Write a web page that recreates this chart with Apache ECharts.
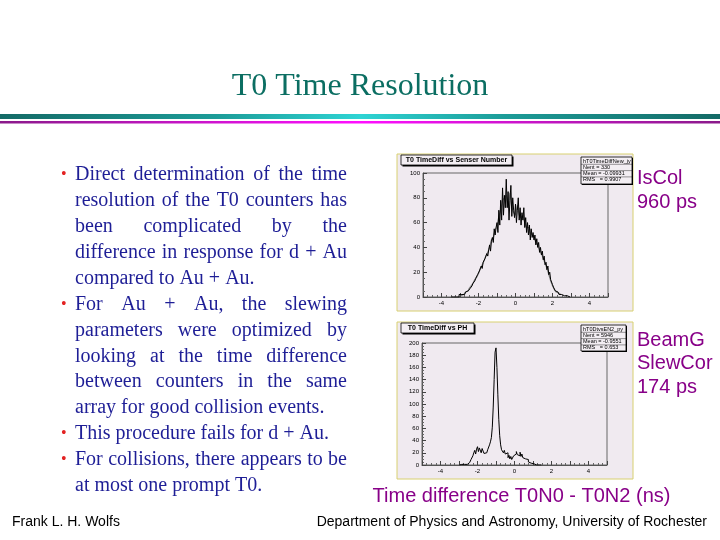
<!DOCTYPE html>
<html><head><meta charset="utf-8">
<script src="https://cdn.jsdelivr.net/npm/echarts@6/dist/echarts.min.js"></script>
<style>html,body{margin:0;padding:0;background:#fff}#c{width:720px;height:540px}</style>
</head><body><div id="c"></div><script>
// ---- data ----
const xTickLabels = [-4, -2, 0, 2, 4];
const topBinStart = -3.5, topBinWidth = 0.05;
const topCounts = [0,1,0,0,1,0,1,1,0,2,
 1,2,1,3,2,3,4,3,5,5,
 6,7,8,9,11,10,13,15,14,18,
 17,21,20,25,23,28,27,31,30,35,
 33,38,42,37,45,48,44,55,50,56,
 60,52,70,58,78,62,88,66,82,72,
 95,72,85,62,78,90,65,80,70,64,
 75,60,70,80,62,72,58,68,62,72,
 56,64,52,60,50,58,46,55,48,52,
 46,50,42,47,40,44,36,40,34,37,
 30,33,26,28,22,25,18,20,14,13,
 10,8,8,5,6,4,4,2,3,2,
 1,2,1,0,1,1,0,1,0,0];
const topGreyStart = -3.0, topGreyWidth = 0.1;
const topGreyCounts = [1,2,3,4,5, 7,9,11,14,16, 19,23,26,29,33, 36,40,46,48,54,
 57,65,70,78,80, 82,72,84,72,68, 66,74,66,64,66, 60,56,56,52,50, 48,44,42,38,35,
 31,27,23,18,13, 9,6,4,3,2];
const botBinStart = -3.0, botBinWidth = 0.05;
const botCounts = [0,0,0,1,0,1,1,2,1,2,
 3,4,6,9,12,15,20,24,18,26,
 30,22,28,25,20,27,24,19,22,20,
 22,25,28,33,38,45,62,95,140,185,
 192,160,115,75,48,33,25,28,20,24,
 18,15,20,12,16,10,14,9,12,15,
 13,18,22,17,20,15,21,14,18,12,
 15,10,12,7,9,5,6,3,4,2,
 2,1,1,0,1,1,0,1,0,0];
const topStats = ['hT0TimeDiffNew_jy', 'Nent = 330', 'Mean = -0.09931', 'RMS   = 0.9907'];
const botStats = ['hT0DtvsEN2_py', 'Nent = 5946', 'Mean = -0.9551', 'RMS   = 0.653'];
const bulletLines = [
 {t:'Direct determination of the time', b:true, j:true},
 {t:'resolution of the T0 counters has', b:false, j:true},
 {t:'been complicated by the', b:false, j:true},
 {t:'difference in response for d + Au', b:false, j:true},
 {t:'compared to Au + Au.', b:false, j:false},
 {t:'For Au + Au, the slewing', b:true, j:true},
 {t:'parameters were optimized by', b:false, j:true},
 {t:'looking at the time difference', b:false, j:true},
 {t:'between counters in the same', b:false, j:true},
 {t:'array for good collision events.', b:false, j:false},
 {t:'This procedure fails for d + Au.', b:true, j:false},
 {t:'For collisions, there appears to be', b:true, j:true},
 {t:'at most one prompt T0.', b:false, j:false}
];

function hist(start, w, counts){ return counts.map((v,i)=>[start + (i+0.5)*w, v]); }

const chart = echarts.init(document.getElementById('c'), null, {renderer:'canvas'});

const SANS = '"Liberation Sans", Arial, sans-serif';
const SERIF = '"Liberation Serif", "Times New Roman", serif';

function mkX(gi){ return {type:'value', gridIndex:gi, min:-5, max:5, interval:1,
  axisLine:{show:true, onZero:false, lineStyle:{color:'#555', width:1}},
  axisTick:{show:true, inside:true, length:4, lineStyle:{color:'#444'}},
  minorTick:{show:true, splitNumber:4, length:2, lineStyle:{color:'#666'}},
  splitLine:{show:false},
  axisLabel:{fontSize:6, color:'#000', margin:3, fontFamily:SANS,
    formatter: v => xTickLabels.indexOf(v) >= 0 ? String(v) : ''}}; }
function mkY(gi, max){ return {type:'value', gridIndex:gi, min:0, max:max, interval:20,
  axisLine:{show:true, onZero:false, lineStyle:{color:'#555', width:1}},
  axisTick:{show:true, inside:true, length:4, lineStyle:{color:'#444'}},
  minorTick:{show:true, splitNumber:4, length:2, lineStyle:{color:'#666'}},
  splitLine:{show:false},
  axisLabel:{fontSize:6, color:'#000', margin:3, fontFamily:SANS}}; }

// justified text (y values are text tops)
const ctx = document.createElement('canvas').getContext('2d');
ctx.font = '20px "Liberation Serif"';
const textEls = [];
const LX = 75, RX = 347, TOP0 = 165, LH = 25.9;
bulletLines.forEach((ln, i) => {
  const y = TOP0 + LH*i;
  const words = ln.t.split(' ');
  const widths = words.map(w => ctx.measureText(w).width);
  const total = widths.reduce((a,b)=>a+b,0);
  const gap = (ln.j && words.length>1) ? (RX-LX-total)/(words.length-1) : ctx.measureText(' ').width;
  let x = LX;
  words.forEach((w, k) => {
    textEls.push({type:'text', z:100, x:x, y:y, style:{text:w, fill:'#1e1e96', font:'20px '+SERIF, verticalAlign:'top'}});
    x += widths[k] + gap;
  });
  if (ln.b) textEls.push({type:'text', z:100, x:61, y:y+2, style:{text:'\u2022', fill:'#e32222', font:'16px '+SERIF, verticalAlign:'top'}});
});

function statBox(x, y, w, h, lines){
  const els = [{type:'rect', z:50, shape:{x:x+1,y:y+1,width:w,height:h}, style:{fill:'#000'}},
    {type:'rect', z:51, shape:{x:x,y:y,width:w,height:h}, style:{fill:'#f3eef3', stroke:'#000', lineWidth:0.8}}];
  lines.forEach((t,i)=>{
    els.push({type:'text', z:52, x:x+2, y:y+4+i*6.3, style:{text:t, fill:'#000', font:'5.5px '+SANS, verticalAlign:'middle'}});
    if (i>0) els.push({type:'line', z:52, shape:{x1:x, y1:y+1+i*6.3, x2:x+w, y2:y+1+i*6.3}, style:{stroke:'#000', lineWidth:0.4}});
  });
  return els;
}
function titleBox(x, y, w, h, t){
  return [{type:'rect', z:50, shape:{x:x+1.5,y:y+1.5,width:w,height:h}, style:{fill:'#000'}},
    {type:'rect', z:51, shape:{x:x,y:y,width:w,height:h}, style:{fill:'#f3eef3', stroke:'#000', lineWidth:0.8}},
    {type:'text', z:52, x:x+w/2, y:y+h/2, style:{text:t, fill:'#000', font:'bold 7px '+SANS, align:'center', verticalAlign:'middle'}}];
}
function label(x, y, t, size, color, align){
  return {type:'text', z:100, x:x, y:y, style:{text:t, fill:color, font:size+'px '+SANS, align:align||'left', verticalAlign:'top'}};
}

const PURPLE = '#880088';
const graphics = [
  {type:'text', z:100, x:360, y:71, style:{text:'T0 Time Resolution', fill:'#0b6e62', font:'32px '+SERIF, align:'center', verticalAlign:'top'}},
  {type:'rect', z:10, shape:{x:0,y:114,width:720,height:5}, style:{fill:{type:'linear',x:0,y:0,x2:1,y2:0,colorStops:[
    {offset:0,color:'#146a66'},{offset:0.3,color:'#1c9c98'},{offset:0.5,color:'#2ed4d4'},{offset:0.7,color:'#1c9c98'},{offset:1,color:'#146a66'}]}}},
  {type:'rect', z:10, shape:{x:0,y:121,width:720,height:2.5}, style:{fill:{type:'linear',x:0,y:0,x2:1,y2:0,colorStops:[
    {offset:0,color:'#8a1a8a'},{offset:0.5,color:'#ff10ff'},{offset:1,color:'#8a1a8a'}]}}},
  {type:'rect', z:-10, shape:{x:397,y:154,width:236,height:157}, style:{fill:'#f0eaf0', stroke:'#d8d070', lineWidth:1}},
  {type:'rect', z:-10, shape:{x:397,y:322,width:236,height:157}, style:{fill:'#f0eaf0', stroke:'#d8d070', lineWidth:1}},
  ...titleBox(401, 155, 111, 10, 'T0 TimeDiff vs Senser Number'),
  ...titleBox(401, 323, 73, 10, 'T0 TimeDiff vs PH'),
  ...statBox(581, 157, 51, 27, topStats),
  ...statBox(581, 325, 45, 26, botStats),
  label(637, 168, 'IsCol', 20, PURPLE),
  label(637, 192, '960 ps', 20, PURPLE),
  label(637, 330, 'BeamG', 20, PURPLE),
  label(637, 353.5, 'SlewCor', 20, PURPLE),
  label(637, 377, '174 ps', 20, PURPLE),
  label(521.5, 486, 'Time difference T0N0 - T0N2 (ns)', 20, PURPLE, 'center'),
  label(12, 515, 'Frank L. H. Wolfs', 14, '#000'),
  label(707, 515, 'Department of Physics and Astronomy, University of Rochester', 14, '#000', 'right'),
  ...textEls
];

chart.setOption({
  animation:false,
  backgroundColor:'#ffffff',
  grid:[
    {left:423, top:173, width:185, height:124, show:true, borderColor:'#666', borderWidth:1, backgroundColor:'transparent'},
    {left:422, top:343, width:185, height:122, show:true, borderColor:'#666', borderWidth:1, backgroundColor:'transparent'}
  ],
  xAxis:[mkX(0), mkX(1)],
  yAxis:[mkY(0,100), mkY(1,200)],
  series:[
    {type:'line', xAxisIndex:0, yAxisIndex:0, step:'middle', symbol:'none', data:hist(topGreyStart, topGreyWidth, topGreyCounts), lineStyle:{color:'#8a8a8a', width:1.2}, z:3},
    {type:'line', xAxisIndex:0, yAxisIndex:0, step:'middle', symbol:'none', data:hist(topBinStart, topBinWidth, topCounts), lineStyle:{color:'#000', width:1}, z:4},
    {type:'line', xAxisIndex:1, yAxisIndex:1, step:'middle', symbol:'none', data:hist(botBinStart, botBinWidth, botCounts), lineStyle:{color:'#000', width:1}, z:4}
  ],
  graphic:{elements:graphics}
});
</script></body></html>
